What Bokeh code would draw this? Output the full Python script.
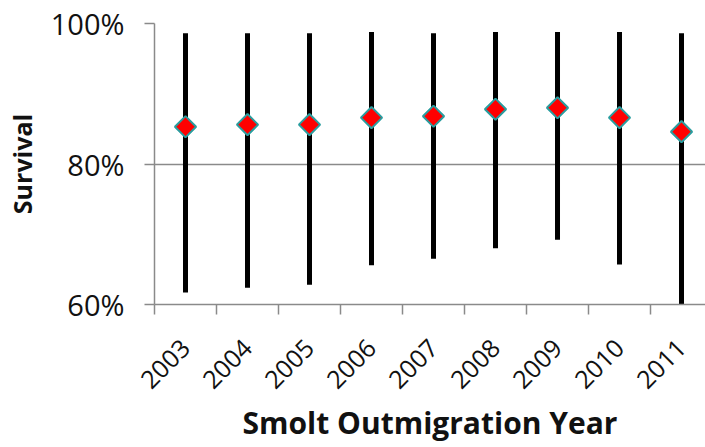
import numpy as np
from bokeh.plotting import figure
from bokeh.models import Range1d, FixedTicker, NumeralTickFormatter, ColumnDataSource
from bokeh.embed import file_html
from bokeh.resources import INLINE

# Annual smolt survival estimates with their interval bounds
years = ["2003", "2004", "2005", "2006", "2007", "2008", "2009", "2010", "2011"]
survival = [0.853, 0.856, 0.856, 0.866, 0.868, 0.878, 0.880, 0.866, 0.846]
lower = [0.617, 0.624, 0.628, 0.656, 0.665, 0.680, 0.692, 0.657, 0.600]
upper = [0.986, 0.986, 0.986, 0.988, 0.986, 0.988, 0.988, 0.988, 0.986]

# each year occupies one unit-wide slot; marks sit at the slot centres
xc = [i + 0.5 for i in range(len(years))]
src = ColumnDataSource(dict(x=xc, year=years, s=survival, lo=lower, hi=upper))

FONT = "Open Sans"
GRAY = "#8a8a8a"
INK = "#111111"

p = figure(width=705, height=447, output_backend="svg", toolbar_location=None,
           x_range=Range1d(0, 8.887), y_range=Range1d(0.6, 1.0),
           min_border_left=154, min_border_right=0, min_border_top=23,
           min_border_bottom=143)
p.outline_line_color = None
p.background_fill_color = "white"
p.border_fill_color = "white"

# interval bars
p.segment(x0="x", y0="lo", x1="x", y1="hi", source=src,
          line_color="black", line_width=5)
# point estimates
p.scatter(x="x", y="s", source=src, marker="square", angle=np.pi / 4,
          size=15, fill_color="#ff0000", line_color="#2a9d9f", line_width=2)

# y axis
p.yaxis.ticker = FixedTicker(ticks=[0.6, 0.8, 1.0])
p.yaxis.formatter = NumeralTickFormatter(format="0%")
p.yaxis.axis_line_color = GRAY
p.yaxis.axis_line_width = 1.5
p.yaxis.major_tick_line_color = GRAY
p.yaxis.major_tick_line_width = 1.5
p.yaxis.major_tick_in = 0
p.yaxis.major_tick_out = 10
p.yaxis.minor_tick_line_color = None
p.yaxis.major_label_text_font = FONT
p.yaxis.major_label_text_font_size = "29px"
p.yaxis.major_label_text_color = INK
p.yaxis.major_label_standoff = 20
p.yaxis.axis_label = "Survival"
p.yaxis.axis_label_text_font = FONT
p.yaxis.axis_label_text_font_style = "bold"
p.yaxis.axis_label_text_font_size = "25px"
p.yaxis.axis_label_text_color = INK
p.yaxis.axis_label_standoff = 9

# x axis: labels at slot centres, tick marks on slot boundaries
p.xaxis.ticker = FixedTicker(ticks=xc, minor_ticks=list(range(len(years) + 1)))
p.xaxis.major_label_overrides = {x: y for x, y in zip(xc, years)}
p.xaxis.major_label_orientation = np.pi / 4
p.xaxis.axis_line_color = GRAY
p.xaxis.axis_line_width = 1.5
p.xaxis.major_tick_line_color = None
p.xaxis.major_tick_in = 0
p.xaxis.major_tick_out = 10
p.xaxis.minor_tick_line_color = GRAY
p.xaxis.minor_tick_line_width = 1.5
p.xaxis.minor_tick_in = 0
p.xaxis.minor_tick_out = 10
p.xaxis.major_label_text_font = FONT
p.xaxis.major_label_text_font_size = "25px"
p.xaxis.major_label_text_color = INK
p.xaxis.major_label_standoff = 29
p.xaxis.axis_label = "Smolt Outmigration Year"
p.xaxis.axis_label_text_font = FONT
p.xaxis.axis_label_text_font_style = "bold"
p.xaxis.axis_label_text_font_size = "30px"
p.xaxis.axis_label_text_color = INK
p.xaxis.axis_label_standoff = 2

# horizontal gridlines only
p.xgrid.grid_line_color = None
p.ygrid.ticker = FixedTicker(ticks=[0.8, 1.0])
p.ygrid.grid_line_color = GRAY
p.ygrid.grid_line_width = 1.5

open("out.html", "w").write(file_html(p, INLINE))
